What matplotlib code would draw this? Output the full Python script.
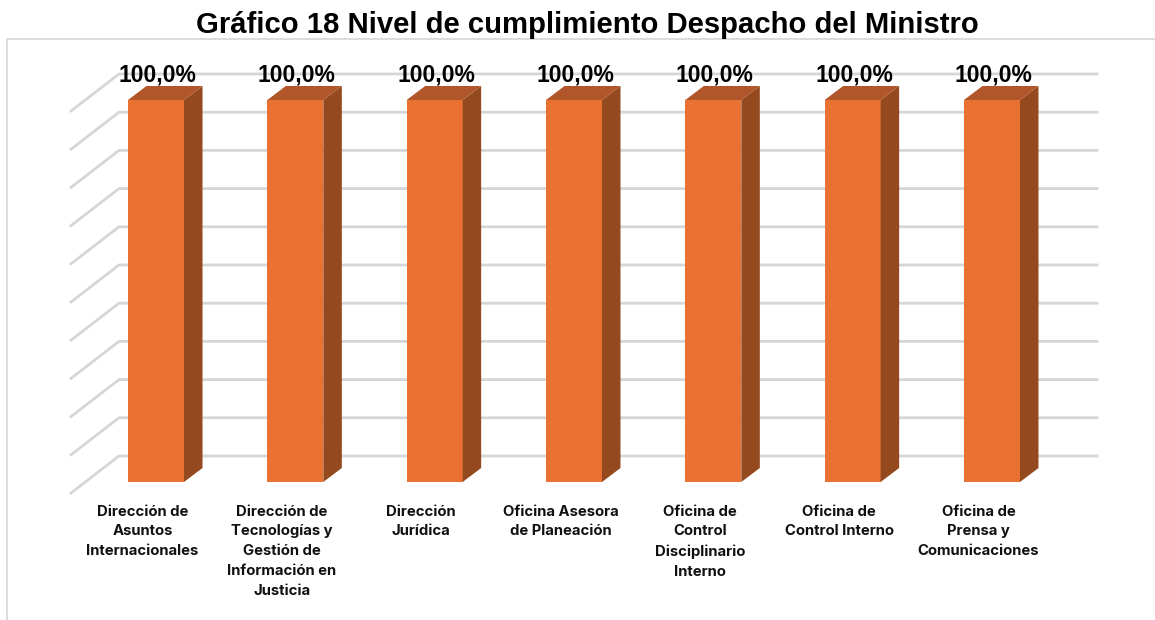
import matplotlib
matplotlib.use("Agg")
import matplotlib.pyplot as plt
from matplotlib.patches import Polygon

categories = [
    "Dirección de\nAsuntos\nInternacionales",
    "Dirección de\nTecnologías y\nGestión de\nInformación en\nJusticia",
    "Dirección\nJurídica",
    "Oficina Asesora\nde Planeación",
    "Oficina de\nControl\nDisciplinario\nInterno",
    "Oficina de\nControl Interno",
    "Oficina de\nPrensa y\nComunicaciones",
]
values = [100.0, 100.0, 100.0, 100.0, 100.0, 100.0, 100.0]
value_labels = ["100,0%"] * 7
grid_ticks = list(range(0, 101, 10))
title = "Gráfico 18 Nivel de cumplimiento Despacho del Ministro"

W, H = 1155, 620
PX_X0, PX_STEP = 156.0, 139.33   # pixel of category 0, pixels per category
PX_Y0, PX_UNIT = 482.0, 3.82     # pixel of value 0, pixels per value unit

def ux(px):
    return px / PX_STEP

def uy(px):
    return px / PX_UNIT

fig = plt.figure(figsize=(W / 100, H / 100), dpi=100, facecolor="white")
ax = fig.add_axes([0, 0, 1, 1])
ax.set_xlim(-PX_X0 / PX_STEP, (W - PX_X0) / PX_STEP)
ax.set_ylim((PX_Y0 - H) / PX_UNIT, PX_Y0 / PX_UNIT)
ax.axis("off")

# chart frame
ax.plot([7 / W, 7 / W, 1], [0, 1 - 39 / H, 1 - 39 / H], transform=ax.transAxes,
        color="#D9D9D9", lw=1.3, zorder=1, clip_on=False)

# walls: horizontal gridlines on the back wall and diagonals on the side wall
left_front = ux(71 - PX_X0)
left_back = ux(119 - PX_X0)
right_back = ux(1097 - PX_X0)
for t in grid_ticks:
    back_y = t + uy(26)
    front_y = t - uy(11)
    ax.plot([left_front, left_back, right_back], [front_y, back_y, back_y],
            color="#D6D6D6", lw=2.0, zorder=2, solid_joinstyle="miter")

# bars
half = ux(28)
dx, dy = ux(18.5), uy(14)
for i, v in enumerate(values):
    ax.bar(i, v, width=2 * half, color="#E97132", zorder=4, linewidth=0)
    ax.add_patch(Polygon([(i + half, 0), (i + half + dx, dy), (i + half + dx, v + dy), (i + half, v)],
                         closed=True, facecolor="#94491F", edgecolor="none", zorder=4))
    ax.add_patch(Polygon([(i - half, v), (i - half + dx, v + dy), (i + half + dx, v + dy), (i + half, v)],
                         closed=True, facecolor="#B1562A", edgecolor="none", zorder=4))
    ax.text(i + ux(1.5), v + uy(25), value_labels[i], ha="center", va="center",
            family="Liberation Sans", fontweight="bold", fontsize=16.5, color="black", zorder=5)
    ax.text(i - ux(13.5), -uy(22.5), categories[i], ha="center", va="top",
            family="Inter", fontweight="bold", fontsize=10.7, color="#111111",
            linespacing=1.53, zorder=5)

fig.text(587 / W, 1 - 25 / H, title, ha="center", va="center",
         family="Liberation Sans", fontweight="bold", fontsize=21.1, color="black")

fig.savefig("out.png", dpi=100, facecolor="white")
